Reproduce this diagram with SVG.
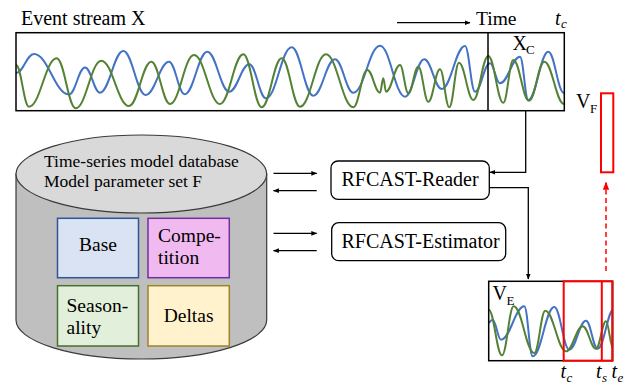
<svg xmlns="http://www.w3.org/2000/svg" width="639" height="387" viewBox="0 0 639 387" font-family="'Liberation Serif', 'Times New Roman', 'DejaVu Serif', serif">
<style>
text{font-family:'Liberation Serif','Times New Roman','DejaVu Serif',serif;fill:#000}
.t20{font-size:20px}
.sub{font-size:13px}
.it{font-style:italic}
.box{fill:none;stroke:#000;stroke-width:1.5}
.blue{fill:none;stroke:#4472c4;stroke-width:2}
.green{fill:none;stroke:#548235;stroke-width:2}
.red{fill:none;stroke:#ff0000;stroke-width:2}
.conn{fill:none;stroke:#000;stroke-width:1.3}
.rbox{fill:#fff;stroke:#000;stroke-width:1.3}
</style>
<defs>
<marker id="ah" viewBox="0 0 10 10" refX="9" refY="5" markerWidth="6" markerHeight="6" orient="auto" markerUnits="userSpaceOnUse">
<path d="M0,1 L10,5 L0,9 Z" fill="#000"/>
</marker>
<marker id="ahr" viewBox="0 0 10 10" refX="9" refY="5" markerWidth="8" markerHeight="8" orient="auto" markerUnits="userSpaceOnUse">
<path d="M0,1 L10,5 L0,9 Z" fill="#ff0000"/>
</marker>
<clipPath id="clipTop"><rect x="16" y="33" width="549" height="77"/></clipPath>
<clipPath id="clipVE"><rect x="488.7" y="281.3" width="124" height="79.4"/></clipPath>
</defs>

<g id="event-stream">
<text class="t20" x="21" y="25">Event stream X</text>
<text class="t20" x="476" y="25" style="font-size:19.5px">Time</text>
<text class="t20 it" x="555" y="25">t</text>
<text class="sub it" x="561" y="28">c</text>
<g clip-path="url(#clipTop)">
<path class="blue" d="M16,73 C23.2,73 26.8,54 34,54 C48,54 55,94.5 69,94.5 C75.4,94.5 78.6,67.5 85,67.5 C91,67.5 94,92.7 100,92.7 C109.3,92.7 114,51 123.3,51 C132.3,51 136.7,95 145.7,95 C155,95 159.7,61.7 169,61.7 C175.3,61.7 178.4,94.3 184.7,94.3 C193.7,94.3 198.3,51.7 207.3,51.7 C216.1,51.7 220.5,91.7 229.3,91.7 C237.3,91.7 241.3,64.3 249.3,64.3 C256,64.3 259.3,98.3 266,98.3 C276.3,98.3 281.4,47.3 291.7,47.3 C300.3,47.3 304.7,95.7 313.3,95.7 C322,95.7 326.3,59.3 335,59.3 C342.3,59.3 346,92.7 353.3,92.7 C364,92.7 369.3,45.7 380,45.7 C390,45.7 395,96.7 405,96.7 C412.7,96.7 416.6,59.3 424.3,59.3 C431.3,59.3 434.7,89 441.7,89 C451,89 455.7,46 465,46 C469,46 471,91.7 475,91.7 C481,91.7 484,63.3 490,63.3 C494,63.3 496,83.3 500,83.3 C508,83.3 512,56.7 520,56.7 C523.3,56.7 525,100 528.3,100 C536.3,100 540.3,51.7 548.3,51.7 C554.6,51.7 557.7,93 564,93"/>
<path class="green" d="M16,65 C21.2,65 23.8,106.7 29,106.7 C40.1,106.7 45.6,58.3 56.7,58.3 C64.3,58.3 68.1,108.3 75.7,108.3 C85.9,108.3 91.1,60.7 101.3,60.7 C112.4,60.7 117.9,106 129,106 C137.9,106 142.4,61.7 151.3,61.7 C158.8,61.7 162.5,104 170,104 C179.6,104 184.4,55 194,55 C204.4,55 209.6,104 220,104 C229.3,104 234,54.3 243.3,54.3 C250.7,54.3 254.3,107.3 261.7,107.3 C269.7,107.3 273.7,58.3 281.7,58.3 C289,58.3 292.7,106.7 300,106.7 C310.4,106.7 315.6,54.3 326,54.3 C336.9,54.3 342.4,107.3 353.3,107.3 C358.9,107.3 361.7,70 367.3,70 C372.4,70 374.9,92.7 380,92.7 C381.3,92.7 382,78.3 383.3,78.3 C384.4,78.3 384.9,91.7 386,91.7 C391.6,91.7 394.4,65 400,65 C403.3,65 405,93.3 408.3,93.3 C412.3,93.3 414.3,66.7 418.3,66.7 C422.3,66.7 424.3,101.7 428.3,101.7 C433,101.7 435.3,69.3 440,69.3 C443.7,69.3 445.6,107.3 449.3,107.3 C453.2,107.3 455.1,62.7 459,62.7 C464.7,62.7 467.6,100 473.3,100 C479.3,100 482.3,56 488.3,56 C494.3,56 497.3,102.7 503.3,102.7 C507.3,102.7 509.3,60 513.3,60 C519.6,60 522.7,100.7 529,100.7 C535.1,100.7 538.2,61.7 544.3,61.7 C552.2,61.7 556.1,104 564,104"/>
</g>
<rect class="box" x="16" y="32.7" width="548.3" height="78"/>
<line class="box" x1="488" y1="32.7" x2="488" y2="110.7"/>
<text class="t20" x="512.5" y="50">X</text>
<text class="sub" x="526" y="54">C</text>
</g>

<g id="vf">
<text class="t20" x="576" y="108">V</text>
<text class="sub" x="590" y="113">F</text>
<rect class="red" x="601" y="93.3" width="12.3" height="79"/>
</g>

<g id="database">
<path d="M16,174 V320 A125.3,39 0 0 0 266.7,320 V174 Z" fill="#bfbfbf" stroke="#3a3a3a" stroke-width="1.2"/>
<ellipse cx="141.35" cy="174" rx="125.35" ry="39" fill="#d9d9d9" stroke="#3a3a3a" stroke-width="1.2"/>
<text x="44" y="166.5" style="font-size:17.5px">Time-series model database</text>
<text x="44" y="186.5" style="font-size:17.5px">Model parameter set F</text>
</g>

<g id="base">
<rect x="57.5" y="218.3" width="81" height="59.4" fill="#dae3f3" stroke="#2f5597" stroke-width="1.5"/>
<text x="98" y="251" text-anchor="middle" style="font-size:19.5px">Base</text>
</g>
<g id="competition">
<rect x="148" y="218.3" width="81.3" height="59.4" fill="#f0b9ef" stroke="#7030a0" stroke-width="1.5"/>
<text x="158" y="242" style="font-size:19.5px">Compe-</text>
<text x="158" y="264" style="font-size:19.5px">tition</text>
</g>
<g id="seasonality">
<rect x="57.5" y="285.7" width="81" height="60.3" fill="#e2efda" stroke="#476f2d" stroke-width="1.5"/>
<text x="66.5" y="312" style="font-size:19.5px">Season-</text>
<text x="66.5" y="334" style="font-size:19.5px">ality</text>
</g>
<g id="deltas">
<rect x="148" y="285.7" width="81.3" height="60.3" fill="#fff2cc" stroke="#a0822a" stroke-width="1.5"/>
<text x="188.6" y="322" text-anchor="middle" style="font-size:19.5px">Deltas</text>
</g>

<g id="reader">
<rect class="rbox" x="331" y="161" width="158.3" height="38.3" rx="7"/>
<text class="t20" x="341.5" y="186">RFCAST-Reader</text>
</g>
<g id="estimator">
<rect class="rbox" x="331.7" y="222.7" width="174" height="38" rx="7"/>
<text class="t20" x="341.5" y="248">RFCAST-Estimator</text>
</g>

<g id="ve">
<g clip-path="url(#clipVE)">
<path class="blue" d="M489,323 C490.5,321 491.2,319.7 492.7,319.7 C496,319.7 497.7,339.7 501,339.7 C510.3,339.7 515,306.3 524.3,306.3 C527.7,306.3 529.3,356.3 532.7,356.3 C541.3,356.3 545.7,307 554.3,307 C560.3,307 563.3,349.7 569.3,349.7 C576,349.7 579.3,320.7 586,320.7 C590.7,320.7 593,348.7 597.7,348.7 C604.2,348.7 607.5,309 614,309"/>
<path class="green" d="M488.7,309.7 C494,309.7 496.7,355.3 502,355.3 C506.7,355.3 509,306.3 513.7,306.3 C521.9,306.3 526.1,353 534.3,353 C538.7,353 540.9,310.7 545.3,310.7 C553.6,310.7 557.7,351.3 566,351.3 C572.7,351.3 576,326.3 582.7,326.3 C588,326.3 590.7,348.7 596,348.7 C600,348.7 602,321.3 606,321.3 C608.8,321.3 610.2,348 613,348"/>
</g>
<rect class="box" x="488.7" y="281.3" width="124" height="79.4"/>
<rect class="red" x="563.7" y="281.3" width="48.5" height="79.4"/>
<line class="red" x1="601.8" y1="281.3" x2="601.8" y2="360.7"/>
<text class="t20" x="492.5" y="300">V</text>
<text class="sub" x="506.5" y="305">E</text>
<text class="t20 it" x="560.5" y="378">t</text>
<text class="sub it" x="566.5" y="382">c</text>
<text class="t20 it" x="596" y="378">t</text>
<text class="sub it" x="602" y="382">s</text>
<text class="t20 it" x="611.5" y="378">t</text>
<text class="sub it" x="617.5" y="382">e</text>
</g>

<g id="connectors">
<line class="conn" x1="397" y1="22.7" x2="470" y2="22.7" marker-end="url(#ah)"/>
<line class="conn" x1="273.5" y1="173.3" x2="316.7" y2="173.3" marker-end="url(#ah)"/>
<line class="conn" x1="316.7" y1="190.7" x2="273.5" y2="190.7" marker-end="url(#ah)"/>
<line class="conn" x1="273.5" y1="233.3" x2="316.7" y2="233.3" marker-end="url(#ah)"/>
<line class="conn" x1="316.7" y1="250.7" x2="273.5" y2="250.7" marker-end="url(#ah)"/>
<path class="conn" d="M525.7,110.7 V172.3 H490" marker-end="url(#ah)"/>
<path class="conn" d="M489.3,187.7 H528.3 V279" marker-end="url(#ah)"/>
<path d="M606,271 V182.5" fill="none" stroke="#ff0000" stroke-width="1.5" stroke-dasharray="5,3.5" marker-end="url(#ahr)"/>
</g>
</svg>
